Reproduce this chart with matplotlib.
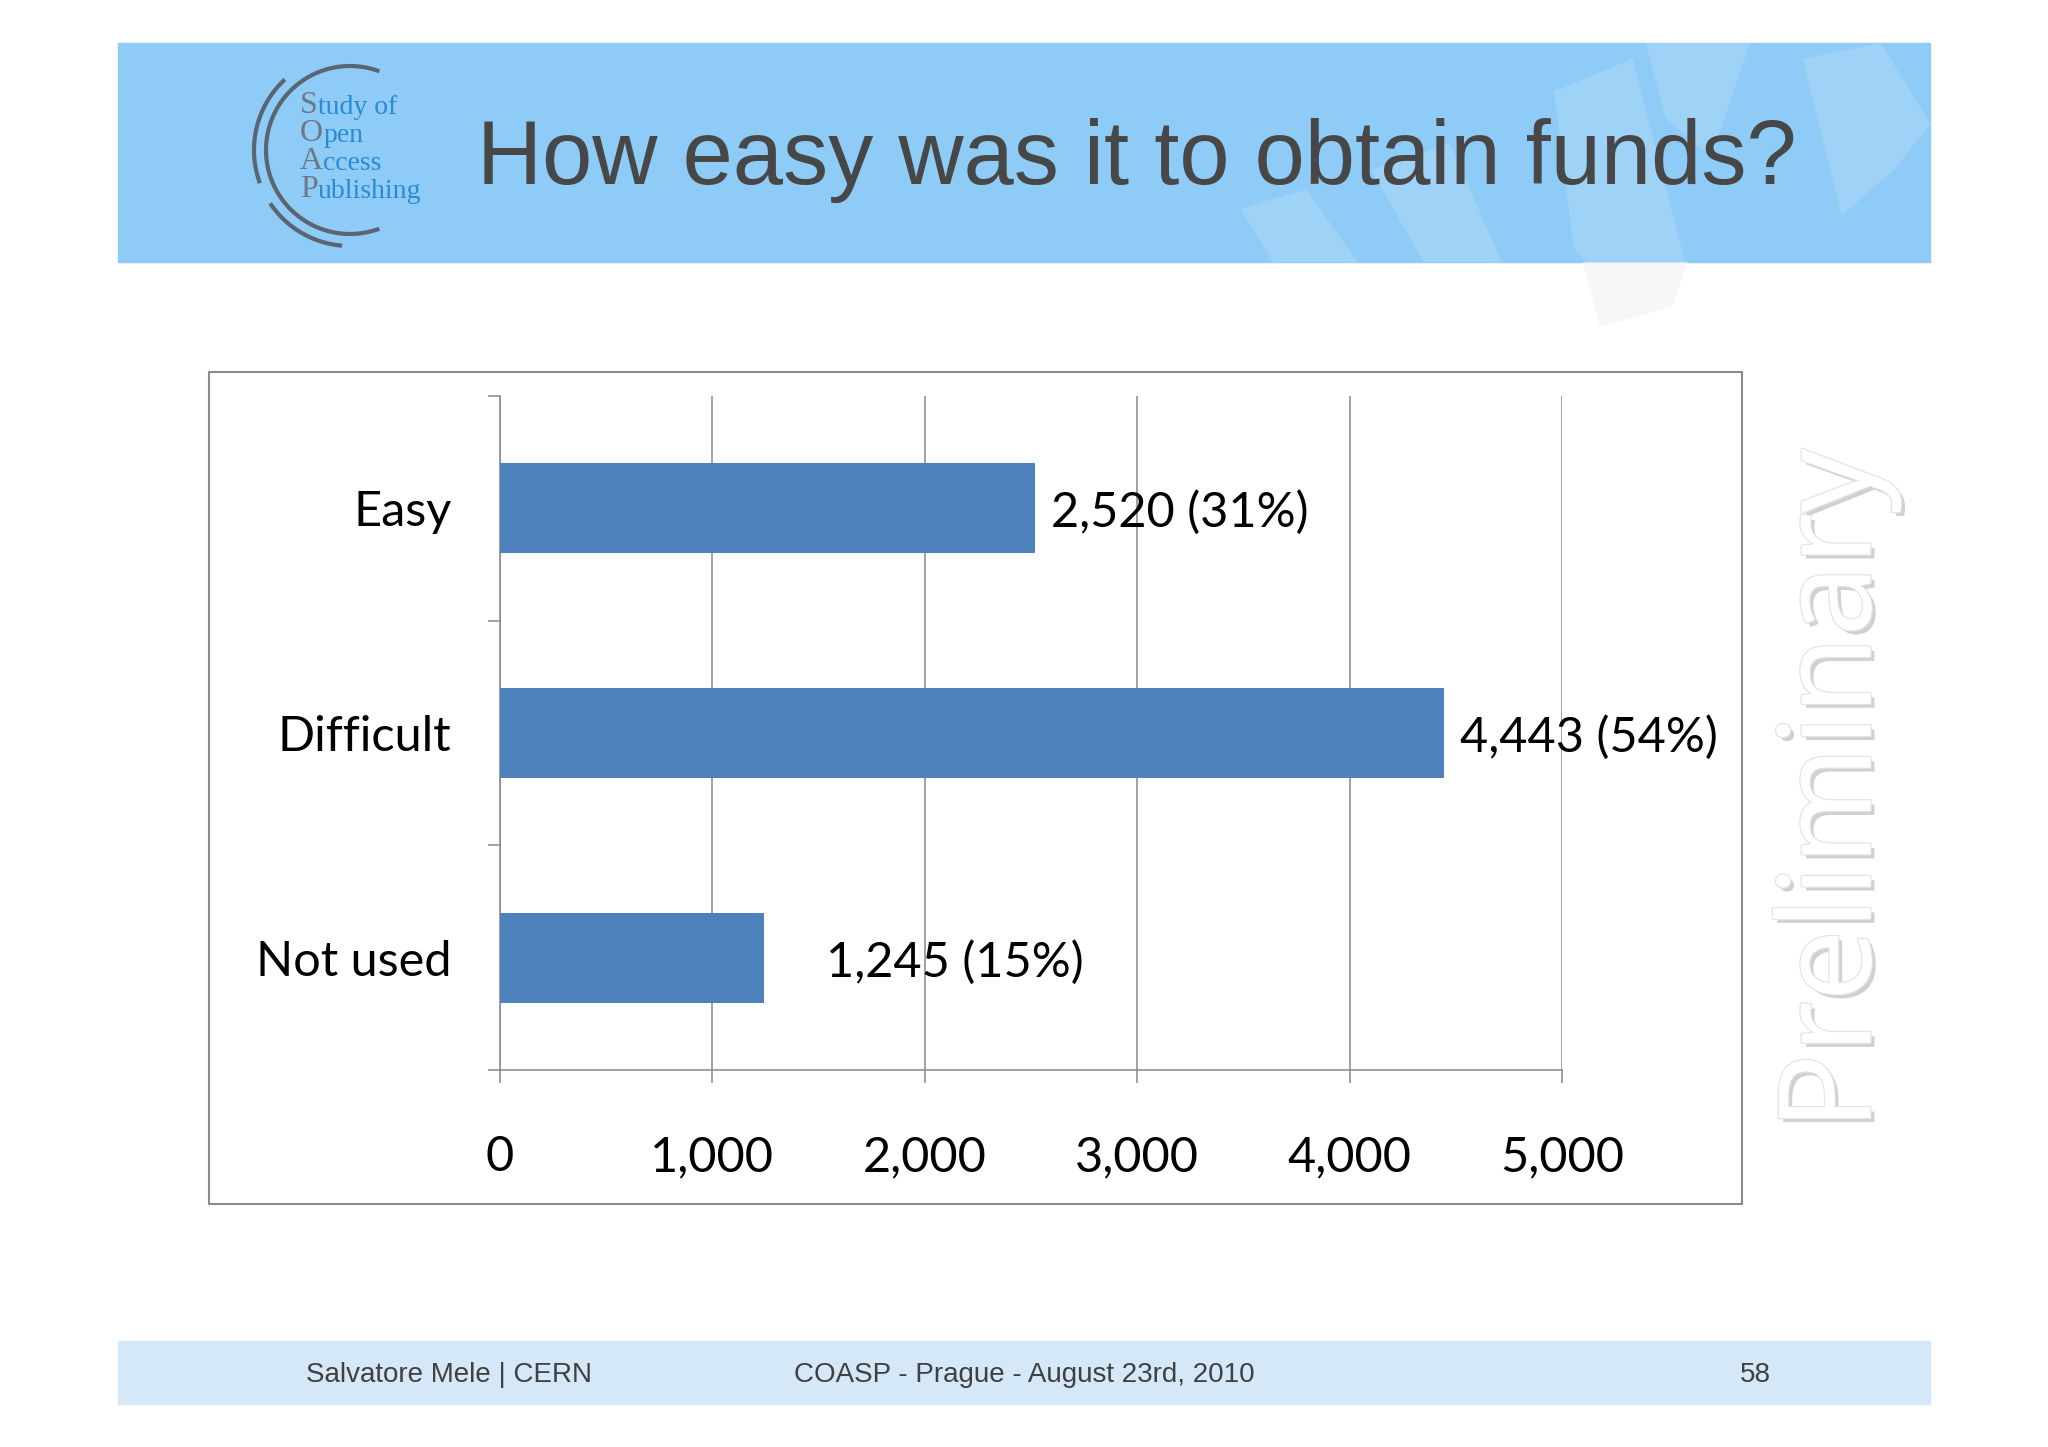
import numpy as np
import matplotlib.pyplot as plt
import matplotlib.patheffects as pe
from matplotlib.patches import Rectangle, Polygon

categories = ['Easy', 'Difficult', 'Not used']
counts = [2520, 4443, 1245]
shares = [31, 54, 15]
xticks = [0, 1000, 2000, 3000, 4000, 5000]

title = 'How easy was it to obtain funds?'
footer_left = 'Salvatore Mele | CERN'
footer_mid = 'COASP - Prague - August 23rd, 2010'
footer_page = '58'
logo_lines = [('S', 'tudy of'), ('O', 'pen'), ('A', 'ccess'), ('P', 'ublishing')]

W, H = 2048, 1447
fig = plt.figure(figsize=(W / 100, H / 100), dpi=100, facecolor='white')

# background layer in pixel coordinates (y down)
bg = fig.add_axes([0, 0, 1, 1])
bg.set_xlim(0, W)
bg.set_ylim(H, 0)
bg.axis('off')

s = W / 1568  # shrunk -> full

# header band
hdr = Rectangle((118, 43), 1812, 219, color='#8ecbf6', zorder=1)
bg.add_patch(hdr)
shapes = [
    [(1190, 70), (1250, 45), (1290, 200), (1295, 201), (1215, 201), (1205, 190)],
    [(950, 160), (1000, 145), (1040, 201), (975, 201)],
    [(1050, 130), (1110, 110), (1150, 201), (1090, 201)],
    [(1380, 45), (1440, 33), (1478, 95), (1450, 130), (1410, 165)],
    [(1260, 33), (1340, 33), (1310, 120), (1275, 90)],
]
for pts in shapes:
    bg.add_patch(Polygon([(x * s, y * s) for x, y in pts], closed=True,
                         color='white', alpha=0.15, lw=0, zorder=2))
bg.add_patch(Polygon([(x * s, y * s) for x, y in
                      [(1212, 201), (1292, 201), (1280, 235), (1225, 250)]],
                     closed=True, color='#f7f7f7', lw=0, zorder=1))

# logo
cx, cy = 350, 150
t = np.radians(np.linspace(71, 289, 200))
bg.plot(cx + 84 * np.cos(t), cy - 84 * np.sin(t), color='#5a6572', lw=3, zorder=3)
for a0, a1 in [(134, 199), (215, 264)]:
    t = np.radians(np.linspace(a0, a1, 100))
    bg.plot(cx + 96 * np.cos(t), cy - 96 * np.sin(t), color='#5a6572', lw=3, zorder=3)
for i, (cap, rest) in enumerate(logo_lines):
    ct = bg.text(300, 113 + i * 28, cap, fontsize=23, color='#6c7886',
                 family='Liberation Serif', va='baseline', ha='left', zorder=4)
    bg.annotate(rest, xy=(1.0, 0), xycoords=ct, va='bottom', ha='left',
                fontsize=20, color='#2a8ad4', family='Liberation Serif', zorder=4)

bg.text(477, 184, title, fontsize=65, color='#474747', family='Liberation Sans',
        va='baseline', ha='left', zorder=4)

# footer band
bg.add_patch(Rectangle((118, 1341), 1812, 63, color='#d5e8f8', zorder=1))
for x, txt in [(306, footer_left), (794, footer_mid), (1740, footer_page)]:
    bg.text(x, 1375, txt, fontsize=20, color='#404040', family='Liberation Sans',
            va='center', ha='left', zorder=4)

# chart frame
bg.add_patch(Rectangle((209, 372), 1533, 832, facecolor='white',
                       edgecolor='#8c8c8c', lw=1.5, zorder=1))

# watermark
bg.text(1837, 790, 'Preliminary', rotation=90, fontsize=92, family='Open Sans',
        color='white', ha='center', va='center', zorder=4,
        path_effects=[pe.withSimplePatchShadow(offset=(3, -3), shadow_rgbFace='#666666', alpha=0.3),
                      pe.withStroke(linewidth=2, foreground='#e4e4e4'), pe.Normal()])

# chart
ax = fig.add_axes([500 / W, 1 - 1070 / H, 1062 / W, 674 / H])
ax.patch.set_alpha(0)
y = np.arange(len(categories))
ax.barh(y, counts, height=0.4, color='#4f81bd', zorder=3)
ax.set_xlim(0, 5000)
ax.set_ylim(len(categories) - 0.5, -0.5)
ax.set_xticks(xticks)
ax.set_xticklabels([f'{v:,}' for v in xticks])
ax.set_yticks(y)
ax.set_yticklabels(categories)
ax.set_yticks(np.arange(len(categories) + 1) - 0.5, minor=True)
ax.xaxis.grid(True, color='#878787', lw=1.1, zorder=0)
for sp in ['top', 'right']:
    ax.spines[sp].set_visible(False)
for sp in ['left', 'bottom']:
    ax.spines[sp].set_color('#878787')
    ax.spines[sp].set_linewidth(1.1)
ax.tick_params(axis='x', length=9, color='#878787', width=1.1, pad=38,
               labelsize=35, labelcolor='black')
ax.tick_params(axis='y', which='major', length=0, pad=35, labelsize=35, labelcolor='black')
ax.tick_params(axis='y', which='minor', length=9, color='#878787', width=1.1)
for lab in ax.get_xticklabels() + ax.get_yticklabels():
    lab.set_family('Lato')

label_pad = [75, 75, 290]
for yi, c, p, d in zip(y, counts, shares, label_pad):
    ax.text(c + d, yi + 0.02, f'{c:,} ({p}%)', va='center', ha='left', fontsize=35,
            family='Lato', color='black', zorder=4)

fig.savefig('out.png', dpi=100, facecolor='white')
